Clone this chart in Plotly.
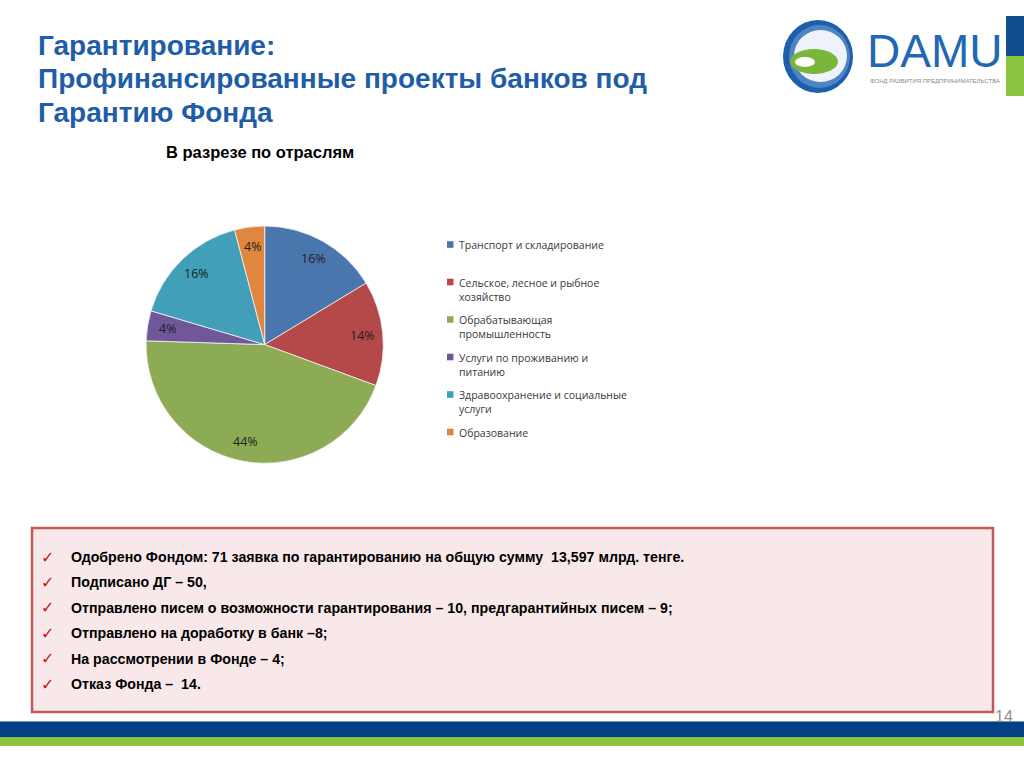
import math
import textwrap
import plotly.graph_objects as go

W, H = 1024, 768

# ---------------- data ----------------
title_lines = [
    "Гарантирование:",
    "Профинансированные проекты банков под",
    "Гарантию Фонда",
]
chart_title = "В разрезе по отраслям"

categories = [
    "Транспорт и складирование",
    "Сельское, лесное и рыбное хозяйство",
    "Обрабатывающая промышленность",
    "Услуги по проживанию и питанию",
    "Здравоохранение и социальные услуги",
    "Образование",
]
shares = [16, 14, 44, 4, 16, 4]  # %

notes = [
    "Одобрено Фондом: 71 заявка по гарантированию на общую сумму  13,597 млрд. тенге.",
    "Подписано ДГ – 50,",
    "Отправлено писем о возможности гарантирования – 10, предгарантийных писем – 9;",
    "Отправлено на доработку в банк –8;",
    "На рассмотрении в Фонде – 4;",
    "Отказ Фонда –  14.",
]
logo_name = "DAMU"
logo_sub = "ФОНД РАЗВИТИЯ ПРЕДПРИНИМАТЕЛЬСТВА"
page_number = "14"

# ---------------- style ----------------
slice_colors = ["#4A76AE", "#B5494A", "#8DAA54", "#6F579A", "#419FBA", "#E0863E"]
title_color = "#1F5DA8"


def px(x):
    return x / W


def py(y):
    return 1 - y / H


cx, cy, R = 264.7, 344.6, 118.6

fig = go.Figure()
fig.add_trace(go.Pie(
    labels=categories,
    values=shares,
    sort=False,
    direction="clockwise",
    rotation=0,
    marker=dict(colors=slice_colors, line=dict(color="#F4F4F4", width=0.8)),
    textinfo="none",
    hoverinfo="label+value",
    showlegend=False,
    domain=dict(x=[px(cx - R), px(cx + R)], y=[py(cy + R), py(cy - R)]),
))

shapes = []
annotations = []


def rect(x0, y0, x1, y1, fill, line_color=None, line_width=0, kind="rect"):
    shapes.append(dict(
        type=kind, xref="paper", yref="paper",
        x0=px(x0), x1=px(x1), y0=py(y1), y1=py(y0),
        fillcolor=fill,
        line=dict(color=line_color or fill, width=line_width),
        layer="below" if kind == "rect" else "above",
    ))


def text(x, y, s, size, color, family="Liberation Sans", xanchor="left",
         yanchor="middle", bold=False):
    annotations.append(dict(
        xref="paper", yref="paper", x=px(x), y=py(y),
        text=f"<b>{s}</b>" if bold else s,
        showarrow=False, xanchor=xanchor, yanchor=yanchor, align="left",
        font=dict(size=size, color=color, family=family),
    ))


# Title
for i, line in enumerate(title_lines):
    text(36, 45 + i * 33.5, line, 28, title_color, bold=True)

# Chart subtitle
text(260, 152, chart_title, 16.5, "#000000", xanchor="center", bold=True)

# Pie data labels (positions derived from the shares)
total = sum(shares)
acc = 0
for v in shares:
    mid = (acc + v / 2) / total * 2 * math.pi
    acc += v
    lx = cx + 0.83 * R * math.sin(mid)
    ly = cy - 0.83 * R * math.cos(mid)
    text(lx, ly, f"{v}%", 12.5, "#1E1E1E", family="Open Sans", xanchor="center")

# Legend
for i, cat in enumerate(categories):
    y0 = 244.5 + i * 37.5
    rect(447, y0 - 3.3, 453.5, y0 + 3.3, slice_colors[i])
    text(457, y0 - 8.2, "<br>".join(textwrap.wrap(cat, 28)), 10.5, "#3A3A3A",
         family="Open Sans", yanchor="top")

# Notes box
rect(32, 528, 993, 712, "#F9E8E9", "#C4575A", 2.5)
for i, note in enumerate(notes):
    y = 557 + i * 25.4
    text(47, y, "<b>✓</b>", 16, "#CC1010", family="DejaVu Sans", xanchor="center")
    text(69, y, note, 14.2, "#000000", bold=True)

# Bottom bars
rect(0, 722, 1024, 737, "#004085")
rect(0, 737, 1024, 746, "#8CC43F")
shapes.append(dict(type="line", xref="paper", yref="paper", x0=0, x1=1,
                   y0=py(721.5), y1=py(721.5), line=dict(color="#6F96C4", width=1)))
text(1004, 716, page_number, 16, "#8E8E8E", xanchor="center")

# Top-right bars
rect(1006, 16, 1024, 56, "#124E8F")
rect(1006, 56, 1024, 96, "#8CC43F")

# Logo
rect(783, 20, 853, 93, "#1D5FAA", kind="circle")
rect(789, 25, 850, 88, "#4F84C4", kind="circle")
rect(794, 30, 847, 82, "#EEF3FA", kind="circle")
rect(790, 49, 838, 74, "#79B63A", kind="circle")
rect(795, 57, 815, 67, "#FFFFFF", kind="circle")
text(865, 51, logo_name, 46, "#1F69B4")
text(868, 80.5, logo_sub, 6, "#8A8A8A")

fig.update_layout(
    width=W, height=H,
    margin=dict(l=0, r=0, t=0, b=0),
    paper_bgcolor="white",
    plot_bgcolor="white",
    showlegend=False,
    shapes=shapes,
    annotations=annotations,
)

fig.write_html("out.html",
               config={"displayModeBar": False},
               post_script="document.body.style.margin='0';document.body.style.overflow='hidden';")
